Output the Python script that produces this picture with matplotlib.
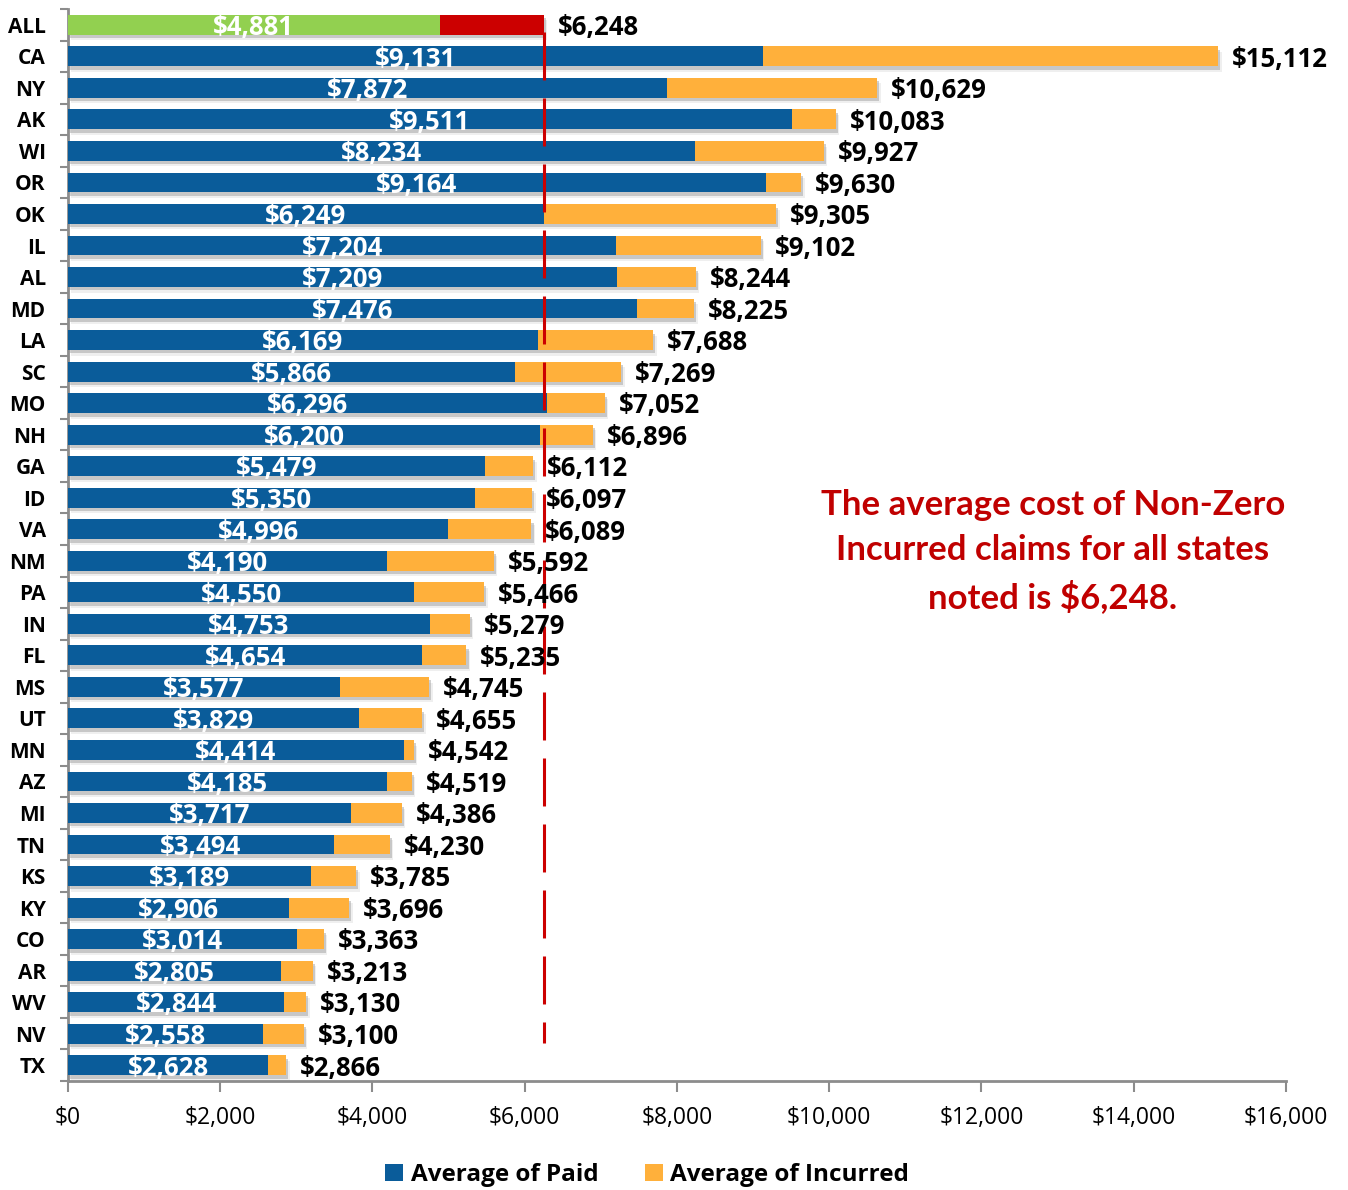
import matplotlib
matplotlib.use("Agg")
import matplotlib.pyplot as plt
import matplotlib.patheffects as pe
from matplotlib.patches import Patch
from matplotlib.ticker import FuncFormatter

# Average claim cost by state: paid vs. total incurred (non-zero incurred claims)
states = ["ALL", "CA", "NY", "AK", "WI", "OR", "OK", "IL", "AL", "MD", "LA",
          "SC", "MO", "NH", "GA", "ID", "VA", "NM", "PA", "IN", "FL", "MS",
          "UT", "MN", "AZ", "MI", "TN", "KS", "KY", "CO", "AR", "WV", "NV", "TX"]
paid = [4881, 9131, 7872, 9511, 8234, 9164, 6249, 7204, 7209, 7476, 6169,
        5866, 6296, 6200, 5479, 5350, 4996, 4190, 4550, 4753, 4654, 3577,
        3829, 4414, 4185, 3717, 3494, 3189, 2906, 3014, 2805, 2844, 2558, 2628]
incurred = [6248, 15112, 10629, 10083, 9927, 9630, 9305, 9102, 8244, 8225, 7688,
            7269, 7052, 6896, 6112, 6097, 6089, 5592, 5466, 5279, 5235, 4745,
            4655, 4542, 4519, 4386, 4230, 3785, 3696, 3363, 3213, 3130, 3100, 2866]
all_states_avg = 6248
x_ticks = [0, 2000, 4000, 6000, 8000, 10000, 12000, 14000, 16000]

BLUE = "#0A5C9A"
ORANGE = "#FFB03B"
GREEN = "#92D050"
RED = "#CC0000"
AXIS_GREY = "#8C8C8C"
NOTE_RED = "#C00000"

plt.rcParams["font.family"] = ["Open Sans", "DejaVu Sans"]

fig = plt.figure(figsize=(13.48, 11.90), dpi=100)
ax = fig.add_axes([0.0504, 0.0916, 0.9036, 0.9008])

ypos = list(range(len(states)))
bar_h = 0.63

incurred_colors = [RED] + [ORANGE] * (len(states) - 1)
paid_colors = [GREEN] + [BLUE] * (len(states) - 1)

shadow = [pe.SimplePatchShadow(offset=(1.5, -2.5), shadow_rgbFace="#7a7a7a", alpha=0.35),
          pe.SimplePatchShadow(offset=(2.5, -4.0), shadow_rgbFace="#9a9a9a", alpha=0.15),
          pe.Normal()]

back = ax.barh(ypos, incurred, height=bar_h, color=incurred_colors, zorder=2)
for b in back:
    b.set_path_effects(shadow)
ax.barh(ypos, paid, height=bar_h, color=paid_colors, zorder=3)

# Value labels: paid inside the bar, total incurred just past its end
for y, p, t in zip(ypos, paid, incurred):
    ax.annotate(f"${p:,}", xy=(p / 2, y), xytext=(0, -2), textcoords="offset points",
                ha="center", va="center", color="white", fontsize=18.5,
                fontweight="bold", zorder=5)
    ax.annotate(f"${t:,}", xy=(t, y), xytext=(10, -2), textcoords="offset points",
                ha="left", va="center", color="black", fontsize=18.5,
                fontweight="bold", zorder=5)

# Overall average reference line
ax.plot([all_states_avg, all_states_avg], [0.22, 32.3], color=RED, lw=2.2,
        dashes=(15.7, 5.9), solid_capstyle="butt", dash_capstyle="butt", zorder=4)

ax.text(12939, 16.7,
        "The average cost of Non-Zero\nIncurred claims for all states\nnoted is $6,248.",
        ha="center", va="center", color=NOTE_RED, fontsize=25, fontweight="bold",
        family=["Lato", "DejaVu Sans"], linespacing=1.5, zorder=5)

# Axes styling
ax.set_xlim(0, 16000)
ax.set_ylim(len(states) - 0.5, -0.5)
ax.set_xticks(x_ticks)
ax.xaxis.set_major_formatter(FuncFormatter(lambda v, _: f"${int(v):,}"))
ax.tick_params(axis="x", length=8, width=1.5, color=AXIS_GREY, labelsize=16.5,
               pad=10, labelcolor="black")

ax.set_yticks(ypos)
ax.set_yticklabels(states, fontweight="bold", fontsize=15)
ax.tick_params(axis="y", length=0, pad=16)
ax.set_yticks([i - 0.5 for i in range(len(states) + 1)], minor=True)
ax.tick_params(axis="y", which="minor", length=6, width=1.5, color=AXIS_GREY)

for side in ("top", "right"):
    ax.spines[side].set_visible(False)
for side in ("left", "bottom"):
    ax.spines[side].set_color(AXIS_GREY)
    ax.spines[side].set_linewidth(2)

handles = [Patch(facecolor=BLUE, label="Average of Paid"),
           Patch(facecolor=ORANGE, label="Average of Incurred")]
fig.legend(handles=handles, loc="center", bbox_to_anchor=(0.48, 0.0126), ncol=2,
           frameon=False, handlelength=0.75, handleheight=0.75, handletextpad=0.3,
           columnspacing=1.9, prop={"weight": "bold", "size": 17.5})

fig.savefig("out.png", dpi=100)
